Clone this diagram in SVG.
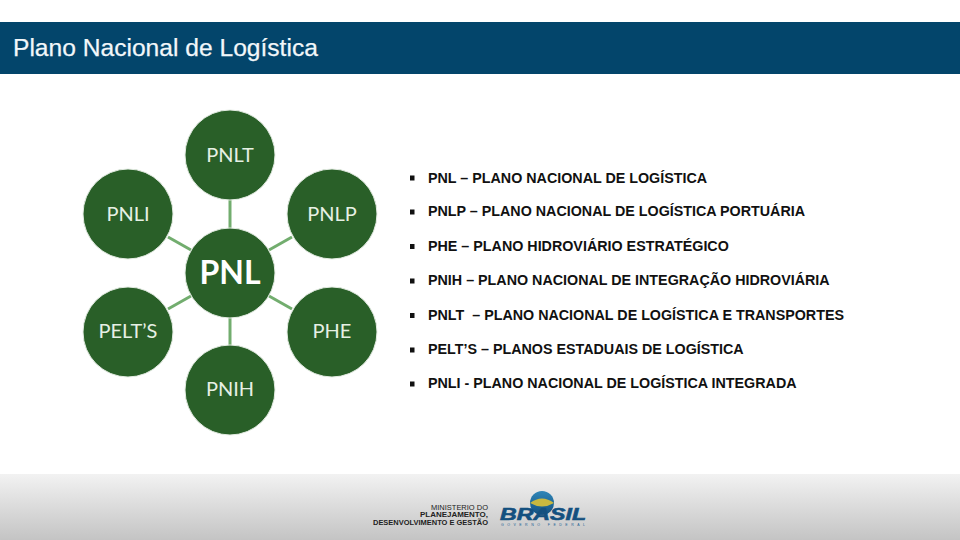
<svg xmlns="http://www.w3.org/2000/svg" width="960" height="540" viewBox="0 0 960 540">
<style>
.c{fill:#295f28;stroke:#e4ece3;stroke-width:1}
.l{font-family:"Lato","Open Sans",sans-serif;font-size:20px;fill:#e6f0e4;text-anchor:middle}
.b{font-family:"Liberation Sans",Arial,sans-serif;font-weight:bold;font-size:14.3px;fill:#111}
.k{fill:#111}
.m{font-family:"Liberation Sans",Arial,sans-serif;font-size:7px;fill:#222;text-anchor:end;font-weight:bold}
</style>
<defs>
<linearGradient id="f" x1="0" y1="0" x2="0" y2="1"><stop offset="0" stop-color="#f2f2f2"/><stop offset="1" stop-color="#c4c4c4"/></linearGradient>
<linearGradient id="g" x1="0" y1="0" x2="0" y2="1"><stop offset="0" stop-color="#2f86b8"/><stop offset="1" stop-color="#14507f"/></linearGradient>
</defs>
<rect width="960" height="540" fill="#fff"/>
<rect id="header" x="0" y="22" width="960" height="52" fill="#03456b"/>
<text x="13" y="55.500" font-family="Liberation Sans,Arial,sans-serif" font-size="24.600" fill="#f2f7fa" stroke="#f2f7fa" stroke-width="0.250">Plano Nacional de Logística</text>
<g id="connectors" stroke="#72ad6e" stroke-width="3" fill="none">
<line x1="230" y1="200" x2="230" y2="228"/>
<line x1="230" y1="318" x2="230" y2="346"/>
<line x1="168" y1="237" x2="191" y2="250"/>
<line x1="269" y1="250" x2="292" y2="237"/>
<line x1="168" y1="309" x2="191" y2="296"/>
<line x1="269" y1="296" x2="292" y2="309"/>
</g>
<g id="pnlt"><circle class="c" cx="230" cy="155" r="45"/><text class="l" x="230" y="162">PNLT</text></g>
<g id="pnli"><circle class="c" cx="128" cy="214" r="45"/><text class="l" x="128" y="221">PNLI</text></g>
<g id="pnlp"><circle class="c" cx="332" cy="214" r="45"/><text class="l" x="332" y="221">PNLP</text></g>
<g id="pelts"><circle class="c" cx="128" cy="332" r="45"/><text class="l" x="128" y="338">PELT’S</text></g>
<g id="phe"><circle class="c" cx="332" cy="332" r="45"/><text class="l" x="332" y="338">PHE</text></g>
<g id="pnih"><circle class="c" cx="230" cy="390" r="45"/><text class="l" x="230" y="396">PNIH</text></g>
<g id="pnl"><circle class="c" cx="230" cy="273" r="45"/><text class="l" x="230" y="284" style="font-size:32px;font-weight:bold;fill:#fff">PNL</text></g>
<g id="list">
<rect class="k" x="410" y="175.500" width="4.500" height="5"/><text class="b" x="428" y="183">PNL – PLANO NACIONAL DE LOGÍSTICA</text>
<rect class="k" x="410" y="209.500" width="4.500" height="5"/><text class="b" x="428" y="216">PNLP – PLANO NACIONAL DE LOGÍSTICA PORTUÁRIA</text>
<rect class="k" x="410" y="244" width="4.500" height="5"/><text class="b" x="428" y="251">PHE – PLANO HIDROVIÁRIO ESTRATÉGICO</text>
<rect class="k" x="410" y="278.500" width="4.500" height="5"/><text class="b" x="428" y="285">PNIH – PLANO NACIONAL DE INTEGRAÇÃO HIDROVIÁRIA</text>
<rect class="k" x="410" y="313" width="4.500" height="5"/><text class="b" x="428" y="320" xml:space="preserve">PNLT  – PLANO NACIONAL DE LOGÍSTICA E TRANSPORTES</text>
<rect class="k" x="410" y="347.500" width="4.500" height="5"/><text class="b" x="428" y="354">PELT’S – PLANOS ESTADUAIS DE LOGÍSTICA</text>
<rect class="k" x="410" y="381.500" width="4.500" height="5"/><text class="b" x="428" y="388">PNLI - PLANO NACIONAL DE LOGÍSTICA INTEGRADA</text>
</g>
<g id="footer">
<rect x="0" y="474" width="960" height="66" fill="url(#f)"/>
<text class="m" x="488" y="509.500" style="font-weight:normal" textLength="57" lengthAdjust="spacingAndGlyphs">MINISTERIO DO</text>
<text class="m" x="488" y="517" textLength="68" lengthAdjust="spacingAndGlyphs">PLANEJAMENTO,</text>
<text class="m" x="488" y="525" textLength="115" lengthAdjust="spacingAndGlyphs">DESENVOLVIMENTO E GESTÃO</text>
<circle cx="542" cy="503" r="12" fill="url(#g)"/>
<path d="M530 503Q542 494 554 503Q542 510 530 503Z" fill="#c9b83f"/>
<text x="543" y="520" text-anchor="middle" font-family="Liberation Sans,Arial,sans-serif" font-weight="bold" font-style="italic" font-size="17" fill="#14507f" stroke="#14507f" stroke-width="0.600" textLength="86" lengthAdjust="spacingAndGlyphs">BRASIL</text>
<text x="543" y="526" text-anchor="middle" font-family="Liberation Sans,Arial,sans-serif" font-size="3.500" fill="#1d5f93" textLength="84">GOVERNO FEDERAL</text>
</g>
</svg>
